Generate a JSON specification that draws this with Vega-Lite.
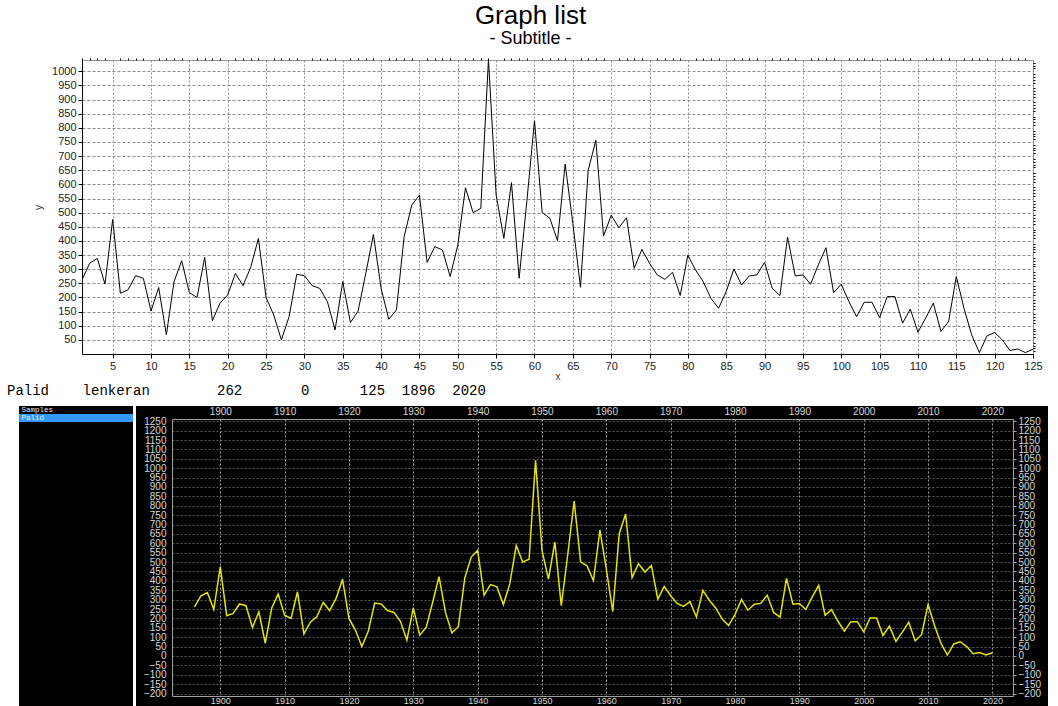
{
  "$schema": "https://vega.github.io/schema/vega-lite/v6.json",
  "padding": {"left": 7, "top": 2, "right": 0, "bottom": 0},
  "background": "white",
  "config": {
    "view": {"stroke": null},
    "font": "Liberation Sans",
    "axis": {"labelOverlap": false, "labelFlush": false}
  },
  "datasets": {
    "palid": [
      {"x":1,"year":1896,"y":262},{"x":2,"year":1897,"y":321},{"x":3,"year":1898,"y":338},{"x":4,"year":1899,"y":247},{"x":5,"year":1900,"y":476},
      {"x":6,"year":1901,"y":215},{"x":7,"year":1902,"y":227},{"x":8,"year":1903,"y":277},{"x":9,"year":1904,"y":268},{"x":10,"year":1905,"y":152},
      {"x":11,"year":1906,"y":235},{"x":12,"year":1907,"y":68},{"x":13,"year":1908,"y":256},{"x":14,"year":1909,"y":330},{"x":15,"year":1910,"y":217},
      {"x":16,"year":1911,"y":200},{"x":17,"year":1912,"y":342},{"x":18,"year":1913,"y":118},{"x":19,"year":1914,"y":180},{"x":20,"year":1915,"y":209},
      {"x":21,"year":1916,"y":285},{"x":22,"year":1917,"y":242},{"x":23,"year":1918,"y":307},{"x":24,"year":1919,"y":409},{"x":25,"year":1920,"y":200},
      {"x":26,"year":1921,"y":138},{"x":27,"year":1922,"y":50},{"x":28,"year":1923,"y":132},{"x":29,"year":1924,"y":282},{"x":30,"year":1925,"y":277},
      {"x":31,"year":1926,"y":242},{"x":32,"year":1927,"y":232},{"x":33,"year":1928,"y":185},{"x":34,"year":1929,"y":85},{"x":35,"year":1930,"y":256},
      {"x":36,"year":1931,"y":111},{"x":37,"year":1932,"y":152},{"x":38,"year":1933,"y":285},{"x":39,"year":1934,"y":423},{"x":40,"year":1935,"y":232},
      {"x":41,"year":1936,"y":123},{"x":42,"year":1937,"y":156},{"x":43,"year":1938,"y":415},{"x":44,"year":1939,"y":527},{"x":45,"year":1940,"y":562},
      {"x":46,"year":1941,"y":324},{"x":47,"year":1942,"y":380},{"x":48,"year":1943,"y":368},{"x":49,"year":1944,"y":274},{"x":50,"year":1945,"y":385},
      {"x":51,"year":1946,"y":588},{"x":52,"year":1947,"y":500},{"x":53,"year":1948,"y":515},{"x":54,"year":1949,"y":1042},{"x":55,"year":1950,"y":562},
      {"x":56,"year":1951,"y":409},{"x":57,"year":1952,"y":606},{"x":58,"year":1953,"y":268},{"x":59,"year":1954,"y":539},{"x":60,"year":1955,"y":825},
      {"x":61,"year":1956,"y":501},{"x":62,"year":1957,"y":480},{"x":63,"year":1958,"y":401},{"x":64,"year":1959,"y":672},{"x":65,"year":1960,"y":462},
      {"x":66,"year":1961,"y":236},{"x":67,"year":1962,"y":650},{"x":68,"year":1963,"y":756},{"x":69,"year":1964,"y":417},{"x":70,"year":1965,"y":491},
      {"x":71,"year":1966,"y":447},{"x":72,"year":1967,"y":482},{"x":73,"year":1968,"y":303},{"x":74,"year":1969,"y":370},{"x":75,"year":1970,"y":321},
      {"x":76,"year":1971,"y":280},{"x":77,"year":1972,"y":264},{"x":78,"year":1973,"y":289},{"x":79,"year":1974,"y":207},{"x":80,"year":1975,"y":350},
      {"x":81,"year":1976,"y":297},{"x":82,"year":1977,"y":256},{"x":83,"year":1978,"y":197},{"x":84,"year":1979,"y":162},{"x":85,"year":1980,"y":221},
      {"x":86,"year":1981,"y":301},{"x":87,"year":1982,"y":244},{"x":88,"year":1983,"y":276},{"x":89,"year":1984,"y":280},{"x":90,"year":1985,"y":324},
      {"x":91,"year":1986,"y":232},{"x":92,"year":1987,"y":207},{"x":93,"year":1988,"y":413},{"x":94,"year":1989,"y":276},{"x":95,"year":1990,"y":280},
      {"x":96,"year":1991,"y":247},{"x":97,"year":1992,"y":315},{"x":98,"year":1993,"y":376},{"x":99,"year":1994,"y":217},{"x":100,"year":1995,"y":247},
      {"x":101,"year":1996,"y":185},{"x":102,"year":1997,"y":132},{"x":103,"year":1998,"y":183},{"x":104,"year":1999,"y":183},{"x":105,"year":2000,"y":129},
      {"x":106,"year":2001,"y":203},{"x":107,"year":2002,"y":203},{"x":108,"year":2003,"y":109},{"x":109,"year":2004,"y":159},{"x":110,"year":2005,"y":77},
      {"x":111,"year":2006,"y":127},{"x":112,"year":2007,"y":180},{"x":113,"year":2008,"y":80},{"x":114,"year":2009,"y":115},{"x":115,"year":2010,"y":274},
      {"x":116,"year":2011,"y":162},{"x":117,"year":2012,"y":68},{"x":118,"year":2013,"y":5},{"x":119,"year":2014,"y":64},{"x":120,"year":2015,"y":76},
      {"x":121,"year":2016,"y":50},{"x":122,"year":2017,"y":12},{"x":123,"year":2018,"y":18},{"x":124,"year":2019,"y":5},{"x":125,"year":2020,"y":17}
    ]
  },
  "spacing": 1,
  "vconcat": [
    {
      "spacing": 4,
      "hconcat": [
        {
          "width": 10,
          "height": 1,
          "data": {"values": [{}]},
          "mark": {"type": "text"},
          "encoding": {"text": {"value": ""}}
        },
        {
          "width": 951,
          "height": 294,
          "view": {"stroke": "#9a9a9a"},
          "title": {
            "text": "Graph list",
            "subtitle": "- Subtitle -",
            "font": "Liberation Sans",
            "fontSize": 26,
            "fontWeight": "normal",
            "color": "black",
            "subtitleFont": "Liberation Sans",
            "subtitleFontSize": 18,
            "subtitleColor": "black",
            "subtitlePadding": 1,
            "anchor": "middle",
            "frame": "group",
            "dx": -27,
            "offset": 10
          },
          "data": {"name": "palid"},
          "layer": [
            {
              "mark": {"type": "line", "color": "black", "strokeWidth": 1, "clip": true},
              "encoding": {
                "x": {
                  "field": "x", "type": "quantitative",
                  "scale": {"domain": [1, 125], "nice": false, "zero": false},
                  "axis": {
                    "values": [5,10,15,20,25,30,35,40,45,50,55,60,65,70,75,80,85,90,95,100,105,110,115,120,125],
                    "format": "d", "grid": true, "gridColor": "#8c8c8c", "gridDash": [2, 2],
                    "domainColor": "black", "tickColor": "black", "tickSize": 4,
                    "labelFontSize": 11, "labelColor": "#222222", "labelPadding": 2,
                    "title": "x", "titleFontSize": 10, "titleFontWeight": "normal", "titleColor": "#333333", "titlePadding": 0
                  }
                },
                "y": {
                  "field": "y", "type": "quantitative",
                  "scale": {"domain": [0, 1040], "nice": false},
                  "axis": {
                    "values": [50,100,150,200,250,300,350,400,450,500,550,600,650,700,750,800,850,900,950,1000],
                    "format": "d", "grid": true, "gridColor": "#8c8c8c", "gridDash": [3, 2],
                    "domainColor": "black", "tickColor": "black", "tickSize": 4,
                    "labelFontSize": 11, "labelColor": "#222222", "labelPadding": 2,
                    "title": "y", "titleFontSize": 10, "titleFontWeight": "normal", "titleColor": "#333333", "titlePadding": 8
                  }
                }
              }
            },
            {
              "mark": {"type": "line", "opacity": 0},
              "encoding": {
                "x": {
                  "field": "x", "type": "quantitative",
                  "axis": {
                    "values": [1,2,3,4,6,7,8,9,11,12,13,14,16,17,18,19,21,22,23,24,26,27,28,29,31,32,33,34,36,37,38,39,41,42,43,44,46,47,48,49,51,52,53,54,56,57,58,59,61,62,63,64,66,67,68,69,71,72,73,74,76,77,78,79,81,82,83,84,86,87,88,89,91,92,93,94,96,97,98,99,101,102,103,104,106,107,108,109,111,112,113,114,116,117,118,119,121,122,123,124],
                    "grid": false, "domain": false, "labels": false, "tickSize": 2, "tickColor": "black", "title": null
                  }
                },
                "y": {
                  "field": "y", "type": "quantitative",
                  "axis": {
                    "values": [10,20,30,40,60,70,80,90,110,120,130,140,160,170,180,190,210,220,230,240,260,270,280,290,310,320,330,340,360,370,380,390,410,420,430,440,460,470,480,490,510,520,530,540,560,570,580,590,610,620,630,640,660,670,680,690,710,720,730,740,760,770,780,790,810,820,830,840,860,870,880,890,910,920,930,940,960,970,980,990,1010,1020,1030],
                    "grid": false, "domain": false, "labels": false, "tickSize": 2, "tickColor": "black", "title": null
                  }
                }
              }
            }
          ],
          "resolve": {"axis": {"x": "independent", "y": "independent"}}
        }
      ]
    },
    {
      "title": {
        "text": "Palid\u00a0\u00a0\u00a0\u00a0lenkeran\u00a0\u00a0\u00a0\u00a0\u00a0\u00a0\u00a0\u00a0262\u00a0\u00a0\u00a0\u00a0\u00a0\u00a0\u00a00\u00a0\u00a0\u00a0\u00a0\u00a0\u00a0125\u00a0\u00a01896\u00a0\u00a02020",
        "anchor": "start",
        "frame": "group",
        "font": "Liberation Mono",
        "fontSize": 14,
        "fontWeight": "normal",
        "color": "black",
        "dx": -12,
        "offset": 8
      },
      "spacing": 3,
      "hconcat": [
        {
          "width": 114,
          "height": 301,
          "view": {"fill": "black", "stroke": null},
          "data": {"values": [{"item": "Samples", "sel": "no"}, {"item": "Palid", "sel": "yes"}]},
          "mark": {"type": "rect"},
          "encoding": {
            "y": {
              "field": "item", "type": "nominal", "sort": null,
              "scale": {"domain": ["Samples", "Palid"], "range": [0, 16], "paddingInner": 0, "paddingOuter": 0},
              "axis": {
                "orient": "left", "ticks": false, "domain": false, "zindex": 1,
                "labelAlign": "left", "labelPadding": -2, "labelColor": "#e8e8e8",
                "labelFont": "Liberation Mono", "labelFontSize": 7.5, "title": null
              }
            },
            "color": {
              "field": "sel", "type": "nominal",
              "scale": {"domain": ["no", "yes"], "range": ["#000000", "#3399ff"]},
              "legend": null
            }
          }
        },
        {
          "width": 912,
          "height": 301,
          "view": {"fill": "black", "stroke": null},
          "data": {"name": "palid"},
          "layer": [
            {
              "mark": {"type": "line", "color": "#e5e500", "strokeWidth": 1.5},
              "encoding": {
                "x": {
                  "field": "year", "type": "quantitative",
                  "scale": {"domain": [1892.5, 2023.2], "range": [36, 877], "nice": false, "zero": false},
                  "axis": {
                    "orient": "top", "offset": -13,
                    "values": [1900,1910,1920,1930,1940,1950,1960,1970,1980,1990,2000,2010,2020],
                    "format": "d", "grid": false,
                    "tickSize": -277, "tickColor": "#a0a0a0", "tickDash": [2, 2],
                    "labelPadding": 280, "labelColor": "#d8d8d8", "labelFontSize": 10,
                    "domainColor": "#a0a0a0", "title": null
                  }
                },
                "y": {
                  "field": "y", "type": "quantitative",
                  "scale": {"domain": [-213, 1262], "range": [290, 13], "nice": false, "zero": false},
                  "axis": {
                    "orient": "left", "offset": -36,
                    "values": [-200,-150,-100,-50,0,50,100,150,200,250,300,350,400,450,500,550,600,650,700,750,800,850,900,950,1000,1050,1100,1150,1200,1250],
                    "format": "d", "grid": false,
                    "tickSize": -841, "tickColor": "#5c5c5c", "tickDash": [2, 2],
                    "labelPadding": 847, "labelColor": "#d8d8d8", "labelFontSize": 10,
                    "domainColor": "#a0a0a0", "title": null
                  }
                }
              }
            },
            {
              "mark": {"type": "line", "opacity": 0},
              "encoding": {
                "x": {
                  "field": "year", "type": "quantitative",
                  "scale": {"domain": [1892.5, 2023.2], "range": [36, 877], "nice": false, "zero": false},
                  "axis": {
                    "orient": "bottom", "offset": -11,
                    "values": [1900,1910,1920,1930,1940,1950,1960,1970,1980,1990,2000,2010,2020],
                    "format": "d", "grid": false, "ticks": false,
                    "labelPadding": 0, "labelColor": "#d8d8d8", "labelFontSize": 9,
                    "domainColor": "#a0a0a0", "title": null
                  }
                },
                "y": {
                  "field": "y", "type": "quantitative",
                  "scale": {"domain": [-213, 1262], "range": [290, 13], "nice": false, "zero": false},
                  "axis": {
                    "orient": "right", "offset": -35,
                    "values": [-200,-150,-100,-50,0,50,100,150,200,250,300,350,400,450,500,550,600,650,700,750,800,850,900,950,1000,1050,1100,1150,1200,1250],
                    "format": "d", "grid": false,
                    "tickSize": 3, "tickColor": "#a0a0a0",
                    "labelPadding": 2, "labelColor": "#d8d8d8", "labelFontSize": 10,
                    "domainColor": "#a0a0a0", "title": null
                  }
                }
              }
            }
          ],
          "resolve": {
            "scale": {"x": "independent", "y": "independent"},
            "axis": {"x": "independent", "y": "independent"}
          }
        }
      ]
    }
  ]
}
